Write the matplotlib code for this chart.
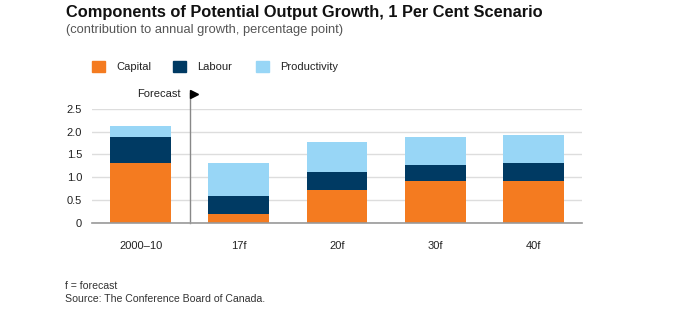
import matplotlib
matplotlib.use("Agg")
import matplotlib.pyplot as plt
from matplotlib.patches import Rectangle
import numpy as np

plt.rcParams['font.family'] = ['Liberation Sans', 'DejaVu Sans']

categories = ["2000–10", "17f", "20f", "30f", "40f"]
capital = [1.31, 0.19, 0.72, 0.91, 0.91]
labour = [0.58, 0.39, 0.39, 0.36, 0.41]
productivity = [0.24, 0.74, 0.66, 0.61, 0.61]
series_names = ["Capital", "Labour", "Productivity"]
yticks = [0, 0.5, 1.0, 1.5, 2.0, 2.5]
ytick_labels = ["0", "0.5", "1.0", "1.5", "2.0", "2.5"]

c_capital = "#F47B20"
c_labour = "#003A63"
c_prod = "#98D6F6"
colors = [c_capital, c_labour, c_prod]

W, H = 678, 335
fig = plt.figure(figsize=(W / 100, H / 100), dpi=100)
ax = fig.add_axes([91.7 / W, 1 - 222.7 / H, 490.6 / W, 113.7 / H])

x = np.arange(len(categories))
cap = np.array(capital)
lab = np.array(labour)
prod = np.array(productivity)
bw = 0.62
ax.bar(x, cap, bw, color=c_capital, zorder=3)
ax.bar(x, lab, bw, bottom=cap, color=c_labour, zorder=3)
ax.bar(x, prod, bw, bottom=cap + lab, color=c_prod, zorder=3)

ax.set_xlim(-0.5, len(categories) - 0.5)
ax.set_ylim(0, 2.5)
ax.set_yticks(yticks)
ax.set_yticklabels(ytick_labels)
ax.set_xticks(x)
ax.set_xticklabels(categories)
ax.tick_params(axis='both', length=0, labelsize=8, colors="#222222")
ax.tick_params(axis='y', pad=7)
ax.tick_params(axis='x', pad=13)
ax.grid(axis='y', color="#DDDDDD", linewidth=1, zorder=0)
for s in ["top", "right", "left"]:
    ax.spines[s].set_visible(False)
ax.spines["bottom"].set_color("#999999")
ax.spines["bottom"].set_linewidth(1.2)
ax.spines["bottom"].set_zorder(4)

# forecast divider
ax.plot([0.5, 0.5], [0, 2.86], color="#888888", linewidth=1, clip_on=False, zorder=4)
ax.text(0.405, 2.83, "Forecast", ha="right", va="center", fontsize=8, color="#222222")
ax.plot([0.54], [2.83], marker=">", color="black", markersize=6, clip_on=False, zorder=5)

# legend row
sq_x = [92, 173, 256]
txt_x = [116, 197, 280]
ly = 66.7
for sx, tx, name, col in zip(sq_x, txt_x, series_names, colors):
    fig.patches.append(Rectangle((sx / W, 1 - (ly + 5.5) / H), 13 / W, 11 / H,
                                 transform=fig.transFigure, color=col))
    fig.text(tx / W, 1 - ly / H, name, fontsize=8, va="center", ha="left", color="#222222")

fig.text(66 / W, 1 - 12 / H, "Components of Potential Output Growth, 1 Per Cent Scenario",
         fontsize=11.8, fontweight="bold", va="center", ha="left", color="#111111")
fig.text(66 / W, 1 - 30.5 / H, "(contribution to annual growth, percentage point)",
         fontsize=9.3, va="center", ha="left", color="#555555")
fig.text(65 / W, 1 - 286 / H, "f = forecast", fontsize=7.6, va="center", ha="left", color="#333333")
fig.text(65 / W, 1 - 299.5 / H, "Source: The Conference Board of Canada.", fontsize=7.6,
         va="center", ha="left", color="#333333")

fig.savefig("out.png", dpi=100)
